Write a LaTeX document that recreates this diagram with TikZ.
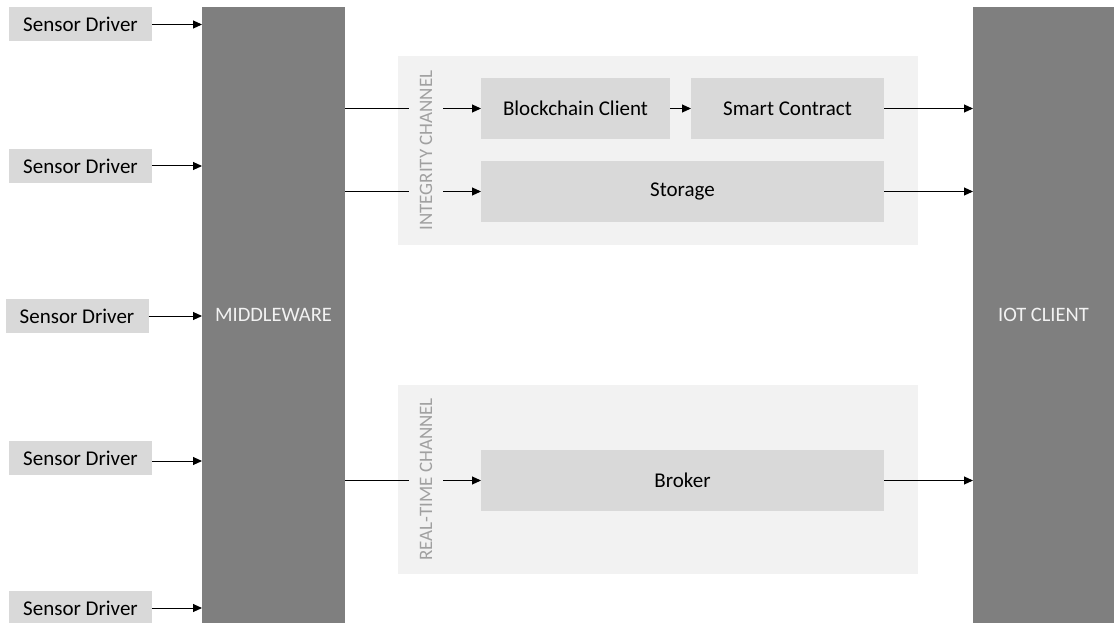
\documentclass[tikz,border=0pt]{standalone}
\usepackage{fontspec}
\setmainfont{Carlito}
\usepackage{tikz}
\definecolor{drivergray}{RGB}{217,217,217}
\definecolor{blockgray}{RGB}{127,127,127}
\definecolor{channelgray}{RGB}{242,242,242}
\definecolor{labelgray}{RGB}{160,160,160}
\usetikzlibrary{arrows.meta, positioning}

\begin{document}
\begin{tikzpicture}[
    x=1pt, y=-1pt,
    driver/.style={rectangle, fill=drivergray, minimum width=143pt,
                minimum height=34pt, inner sep=0pt, outer sep=0pt,
                font=\fontsize{21}{25}\selectfont},
    block/.style={rectangle, fill=blockgray, text=channelgray, anchor=north west,
                minimum width=143pt, minimum height=616pt, inner sep=0pt,
                outer sep=0pt, font=\fontsize{20.5}{25}\selectfont},
    channel/.style={rectangle, fill=channelgray, anchor=north west,
                minimum width=520pt, minimum height=189pt, inner sep=0pt},
    chanlabel/.style={rotate=90, text=labelgray, minimum height=34pt,
                inner sep=0pt, font=\fontsize{19}{22}\selectfont},
    comp/.style={rectangle, fill=drivergray, anchor=north west,
                minimum height=61pt, inner sep=0pt, outer sep=0pt,
                font=\fontsize{21}{25}\selectfont},
    arrow/.style={-{Triangle[length=9pt,width=8pt]}, line width=1pt},
    link/.style={line width=1pt}
]
    \useasboundingbox (0,0) rectangle (1114,623);

    % channel backgrounds
    \node[channel] (integrity) at (398,56) {};
    \node[channel] (realtime) at (398,385) {};
    \node[chanlabel] (intlabel) at (426,150.5) {INTEGRITY CHANNEL};
    \node[chanlabel] (rtlabel) at (426,479.5) {REAL-TIME CHANNEL};

    % outer blocks
    \node[block] (mw) at (202,7) {MIDDLEWARE};
    \node[block, minimum width=141pt] (iot) at (973,7) {IOT CLIENT};

    % sensor drivers
    \node[driver] (s1) at (80.5,24.5) {Sensor Driver};
    \node[driver] (s2) at (80.5,166) {Sensor Driver};
    \node[driver] (s3) at (77,316) {Sensor Driver};
    \node[driver] (s4) at (80.5,458) {Sensor Driver};
    \node[driver] (s5) at (80.5,608) {Sensor Driver};

    % channel components
    \node[comp, minimum width=189pt] (bc) at (481,78) {Blockchain Client};
    \node[comp, minimum width=193pt, right=21pt of bc.east, anchor=west] (sc) {Smart Contract};
    \node[comp, minimum width=403pt] (storage) at (481,161) {Storage};
    \node[comp, minimum width=403pt] (broker) at (481,450) {Broker};

    \foreach \s in {s1,s2,s3,s5}
        \draw[arrow] (\s) -- (\s -| mw.west);
    \draw[arrow] ([yshift=-3pt]s4.east) -- ([yshift=-3pt]s4.east -| mw.west);

    \foreach \c/\l in {bc/intlabel, storage/intlabel, broker/rtlabel} {
        \draw[link] (mw.east |- \c) -- (\l.north |- \c);
        \draw[arrow] (\l.south |- \c) -- (\c);
    }
    \draw[arrow] (bc) -- (sc);
    \draw[arrow] (sc) -- (sc -| iot.west);
    \draw[arrow] (storage) -- (storage -| iot.west);
    \draw[arrow] (broker) -- (broker -| iot.west);
\end{tikzpicture}
\end{document}
